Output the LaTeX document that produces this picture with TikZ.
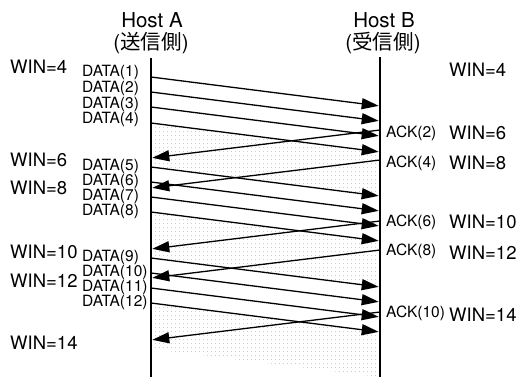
\documentclass[tikz,border=0pt]{standalone}
\usepackage{fontspec}
\setmainfont{TeX Gyre Heros}
\newfontfamily\cjk{Noto Sans CJK JP}
\usetikzlibrary{arrows.meta}
\usetikzlibrary{patterns.meta}

\begin{document}
\begin{tikzpicture}[x=1pt, y=-1pt,
  hosttitle/.style={inner sep=0pt, font=\fontsize{20.5}{22}\selectfont},
  winlbl/.style={anchor=west, inner sep=0pt, font=\fontsize{18.5}{20}\selectfont},
  datalbl/.style={anchor=west, inner sep=0pt, font=\fontsize{15.5}{16}\selectfont},
  acklbl/.style={anchor=west, inner sep=0pt, font=\fontsize{15.5}{17}\selectfont},
  hostline/.style={line width=2.6pt},
  msg/.style={-{Triangle[length=17pt, width=11pt]}, line width=1.3pt,
              shorten >=1.3pt},
  idle/.style={pattern={Dots[distance=4pt, radius=0.45pt]},
               pattern color=black!40}]
  \useasboundingbox (0,0) rectangle (526,378);
  % hosts
  \node[hosttitle] (hostA) at (152,20) {Host A};
  \node[hosttitle] (roleA) at (151,43) {({\cjk 送信側})};
  \node[hosttitle] (hostB) at (384,20) {Host B};
  \node[hosttitle] (roleB) at (383,43) {({\cjk 受信側})};
  \coordinate (atop) at (151,58);
  \coordinate (abot) at (151,377);
  \coordinate (btop) at (380,57);
  \coordinate (bbot) at (380,377);
  % sender side: data leaves A
  \coordinate (a1) at (151,77);   \coordinate (b1) at (380,106);
  \coordinate (a2) at (151,92);   \coordinate (b2) at (380,121);
  \coordinate (a3) at (151,107);  \coordinate (b3) at (380,136);
  \coordinate (a4) at (151,123);  \coordinate (b4) at (380,152);
  \coordinate (a5) at (151,167);  \coordinate (b5) at (380,196);
  \coordinate (a6) at (151,182);  \coordinate (b6) at (380,211);
  \coordinate (a7) at (151,197);  \coordinate (b7) at (380,226);
  \coordinate (a8) at (151,212);  \coordinate (b8) at (380,241);
  \coordinate (a9) at (151,258);  \coordinate (b9) at (380,287);
  \coordinate (a10) at (151,273); \coordinate (b10) at (380,302);
  \coordinate (a11) at (151,288); \coordinate (b11) at (380,317);
  \coordinate (a12) at (151,303); \coordinate (b12) at (380,332);
  \coordinate (a13) at (151,349); \coordinate (b13) at (380,377);
  % receiver side: acks leave B
  \coordinate (kb2) at (380,130);  \coordinate (ka2) at (151,158);
  \coordinate (kb4) at (380,160);  \coordinate (ka4) at (151,188);
  \coordinate (kb6) at (380,221);  \coordinate (ka6) at (151,249);
  \coordinate (kb8) at (380,250);  \coordinate (ka8) at (151,278);
  \coordinate (kb10) at (380,312); \coordinate (ka10) at (151,340);
  % idle bands between the windows
  \fill[idle] (a4) -- (b4) -- (b5) -- (a5) -- cycle;
  \fill[idle] (a8) -- (b8) -- (b9) -- (a9) -- cycle;
  \fill[idle] (a12) -- (b12) -- (b13) -- (a13) -- cycle;
  \draw[hostline] (atop) -- (abot);
  \draw[hostline] (btop) -- (bbot);
  % data segments
  \draw[msg] (a1) -- (b1);
  \draw[msg] (a2) -- (b2);
  \draw[msg] (a3) -- (b3);
  \draw[msg] (a4) -- (b4);
  \draw[msg] (a5) -- (b5);
  \draw[msg] (a6) -- (b6);
  \draw[msg] (a7) -- (b7);
  \draw[msg] (a8) -- (b8);
  \draw[msg] (a9) -- (b9);
  \draw[msg] (a10) -- (b10);
  \draw[msg] (a11) -- (b11);
  \draw[msg] (a12) -- (b12);
  % acknowledgements
  \draw[msg] (kb2) -- (ka2);
  \draw[msg] (kb4) -- (ka4);
  \draw[msg] (kb6) -- (ka6);
  \draw[msg] (kb8) -- (ka8);
  \draw[msg] (kb10) -- (ka10);
  % labels
  \node[datalbl] (d1) at (82,72) {DATA(1)};
  \node[datalbl] (d2) at (82,88) {DATA(2)};
  \node[datalbl] (d3) at (82,104) {DATA(3)};
  \node[datalbl] (d4) at (82,119) {DATA(4)};
  \node[datalbl] (d5) at (82,166) {DATA(5)};
  \node[datalbl] (d6) at (82,181) {DATA(6)};
  \node[datalbl] (d7) at (82,196) {DATA(7)};
  \node[datalbl] (d8) at (82,211) {DATA(8)};
  \node[datalbl] (d9) at (82,257) {DATA(9)};
  \node[datalbl] (d10) at (82,272) {DATA(10)};
  \node[datalbl] (d11) at (82,287) {DATA(11)};
  \node[datalbl] (d12) at (82,302) {DATA(12)};
  \node[winlbl] (wa4) at (10,67) {WIN=4};
  \node[winlbl] (wa6) at (10,160) {WIN=6};
  \node[winlbl] (wa8) at (10,188) {WIN=8};
  \node[winlbl] (wa10) at (10,252) {WIN=10};
  \node[winlbl] (wa12) at (10,281) {WIN=12};
  \node[winlbl] (wa14) at (10,343) {WIN=14};
  \node[acklbl] (k2) at (386,133) {ACK(2)};
  \node[acklbl] (k4) at (386,163) {ACK(4)};
  \node[acklbl] (k6) at (386,222) {ACK(6)};
  \node[acklbl] (k8) at (386,251) {ACK(8)};
  \node[acklbl] (k10) at (386,313) {ACK(10)};
  \node[winlbl] (wb4) at (449,70) {WIN=4};
  \node[winlbl] (wb6) at (449,133) {WIN=6};
  \node[winlbl] (wb8) at (449,163) {WIN=8};
  \node[winlbl] (wb10) at (449,222) {WIN=10};
  \node[winlbl] (wb12) at (449,253) {WIN=12};
  \node[winlbl] (wb14) at (449,315) {WIN=14};
\end{tikzpicture}
\end{document}
